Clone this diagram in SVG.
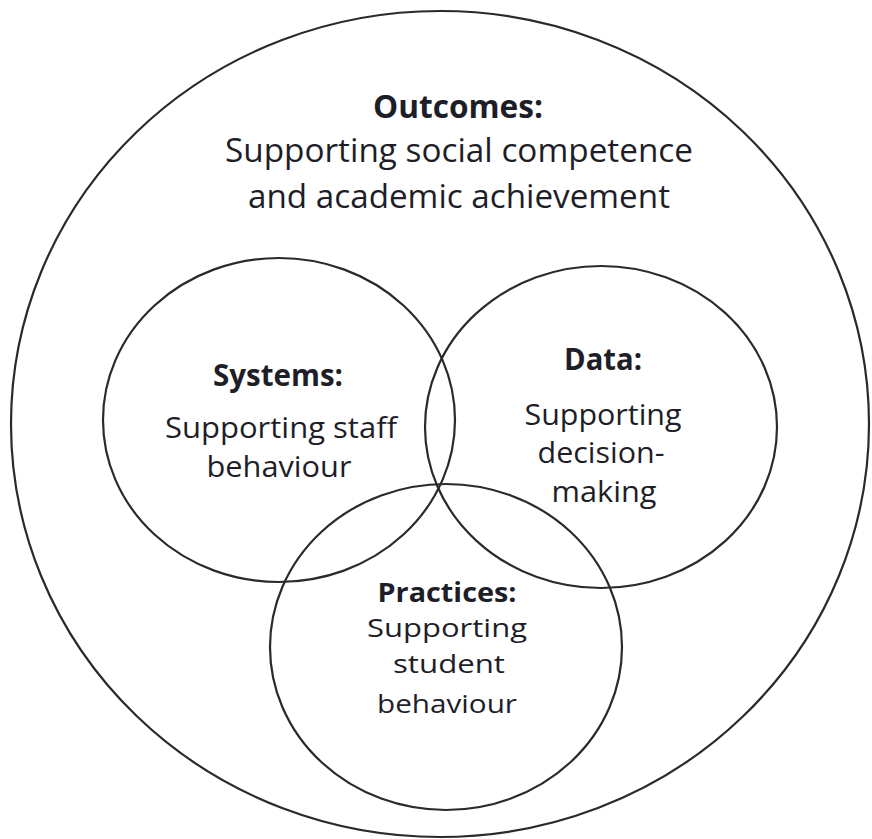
<svg xmlns="http://www.w3.org/2000/svg" width="872" height="839" viewBox="0 0 872 839">
<style>
.c{fill:none;stroke:#2a2a2a;stroke-width:2.2}
text{font-family:"Open Sans","Liberation Sans",sans-serif;fill:#1e1e28;text-anchor:middle}
.t{font-weight:bold}
.o{font-size:32px}
.i{font-size:30px}
.p{font-size:26px}
</style>
<rect width="872" height="839" fill="#fff"/>
<g id="outcomes">
<ellipse class="c" cx="440" cy="424" rx="429" ry="413"/>
<text class="o t" x="458" y="118" textLength="170" lengthAdjust="spacingAndGlyphs">Outcomes:</text>
<text class="o" x="459" y="162" textLength="468" lengthAdjust="spacingAndGlyphs">Supporting social competence</text>
<text class="o" x="459" y="208" textLength="422" lengthAdjust="spacingAndGlyphs">and academic achievement</text>
</g>
<g id="systems">
<ellipse class="c" cx="279" cy="420" rx="176" ry="162"/>
<text class="i t" x="278" y="386" textLength="130" lengthAdjust="spacingAndGlyphs">Systems:</text>
<text class="i" x="281" y="438" textLength="232" lengthAdjust="spacingAndGlyphs">Supporting staff</text>
<text class="i" x="279" y="477" textLength="145" lengthAdjust="spacingAndGlyphs">behaviour</text>
</g>
<g id="data">
<ellipse class="c" cx="601" cy="427" rx="176" ry="161"/>
<text class="i t" x="603" y="370" textLength="78" lengthAdjust="spacingAndGlyphs">Data:</text>
<text class="i" x="603" y="425" textLength="157" lengthAdjust="spacingAndGlyphs">Supporting</text>
<text class="i" x="601" y="463" textLength="127" lengthAdjust="spacingAndGlyphs">decision-</text>
<text class="i" x="604" y="502" textLength="105" lengthAdjust="spacingAndGlyphs">making</text>
</g>
<g id="practices">
<ellipse class="c" cx="446" cy="647" rx="176" ry="163"/>
<text class="p t" x="447" y="602" textLength="139" lengthAdjust="spacingAndGlyphs">Practices:</text>
<text class="p" x="447" y="637" textLength="160" lengthAdjust="spacingAndGlyphs">Supporting</text>
<text class="p" x="449" y="673" textLength="112" lengthAdjust="spacingAndGlyphs">student</text>
<text class="p" x="447" y="713" textLength="140" lengthAdjust="spacingAndGlyphs">behaviour</text>
</g>
<g id="connectors"/>
</svg>
